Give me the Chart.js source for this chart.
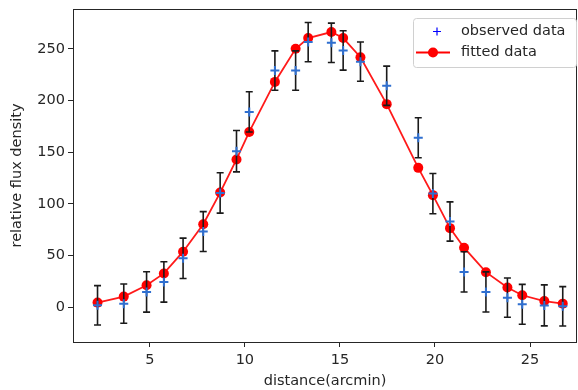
<!DOCTYPE html>
<html>
<head>
<meta charset="utf-8">
<script src="https://cdn.jsdelivr.net/npm/chart.js@4"></script>
<style>
  html, body { margin: 0; padding: 0; background: #fff; }
  #wrap { width: 578px; height: 390px; }
</style>
</head>
<body>
<div id="wrap"><canvas id="chart" width="578" height="390"></canvas></div>
<script>
// values
const distance = [2.25, 3.63, 4.83, 5.74, 6.75, 7.81, 8.7, 9.56, 10.23, 11.58, 12.67, 13.33, 14.55,
  15.17, 16.08, 17.46, 19.12, 19.89, 20.79, 21.53, 22.68, 23.81, 24.59, 25.75, 26.72];
const observed = [2, 3.6, 14.9, 24.6, 47.4, 73.3, 110.6, 151, 189, 229, 229, 256.5, 255.8,
  248.4, 237.6, 214.3, 164, 110, 83, 34.3, 14.9, 9.4, 2.9, 1.9, 1];
const fitted = [4.6, 10.4, 21.4, 32.8, 53.8, 80.4, 111, 143, 169.6, 218, 250, 260.4, 266.2,
  260.4, 241.9, 196.5, 134.9, 108.5, 76.6, 57.7, 34, 19.2, 11.7, 6.1, 3.6];
const obsError = [19, 19, 19.5, 19.5, 19.5, 19.3, 19.5, 20, 19.5, 19, 19, 19, 19,
  19, 19, 19, 19.4, 19.5, 19, 19.5, 19.4, 19, 19.3, 19.8, 19];
const xTicks = [5, 10, 15, 20, 25];
const yTicks = [0, 50, 100, 150, 200, 250];
const seriesNames = ["observed data", "fitted data"];

const FONT = "DejaVu Sans";
const FSIZE = 14.5;
const INK = "#262626";

const obsPoints = distance.map((d, i) => ({ x: d, y: observed[i] }));
const fitPoints = distance.map((d, i) => ({ x: d, y: fitted[i] }));

// black error bars, drawn right after the fitted line so crosses sit on top
const errorBars = {
  id: "errorBars",
  afterDatasetDraw(chart, args) {
    if (args.index !== 1) return;
    const { ctx, scales: { x, y } } = chart;
    ctx.save();
    ctx.strokeStyle = "#1a1a1a";
    ctx.lineWidth = 1.6;
    for (let i = 0; i < distance.length; i++) {
      const px = x.getPixelForValue(distance[i]);
      const top = y.getPixelForValue(observed[i] + obsError[i]);
      const bot = y.getPixelForValue(observed[i] - obsError[i]);
      ctx.beginPath();
      ctx.moveTo(px, top); ctx.lineTo(px, bot);
      ctx.moveTo(px - 3.5, top); ctx.lineTo(px + 3.5, top);
      ctx.moveTo(px - 3.5, bot); ctx.lineTo(px + 3.5, bot);
      ctx.stroke();
    }
    ctx.restore();
  }
};

// axes frame and the legend box in the upper right corner
const frameAndLegend = {
  id: "frameAndLegend",
  afterDraw(chart) {
    const { ctx, chartArea: a } = chart;
    ctx.save();
    ctx.strokeStyle = INK;
    ctx.lineWidth = 1;
    ctx.strokeRect(a.left + 0.5, a.top + 0.5, a.right - a.left - 1, a.bottom - a.top);

    const bx = 413, by = 18, bw = 163, bh = 49;
    ctx.fillStyle = "rgba(255,255,255,0.85)";
    ctx.strokeStyle = "#d0d0d0";
    ctx.beginPath();
    ctx.roundRect(bx + 0.5, by + 0.5, bw, bh, 3);
    ctx.fill(); ctx.stroke();

    // observed: blue plus
    ctx.strokeStyle = "#0000ff";
    ctx.lineWidth = 1.2;
    ctx.beginPath();
    ctx.moveTo(433, 31.5); ctx.lineTo(441, 31.5);
    ctx.moveTo(437, 27.5); ctx.lineTo(437, 35.5);
    ctx.stroke();
    // fitted: red line with dot
    ctx.strokeStyle = "#ff0000";
    ctx.lineWidth = 2;
    ctx.beginPath();
    ctx.moveTo(416, 52.5); ctx.lineTo(450, 52.5);
    ctx.stroke();
    ctx.fillStyle = "#ff0000";
    ctx.beginPath();
    ctx.arc(433, 52.5, 5, 0, Math.PI * 2);
    ctx.fill();

    ctx.fillStyle = INK;
    ctx.font = FSIZE + "px '" + FONT + "'";
    ctx.textBaseline = "middle";
    ctx.fillText(seriesNames[0], 461, 31.5);
    ctx.fillText(seriesNames[1], 461, 52.5);
    ctx.restore();
  }
};

new Chart(document.getElementById("chart"), {
  type: "scatter",
  plugins: [errorBars, frameAndLegend],
  data: {
    datasets: [
      {
        label: seriesNames[0],
        data: obsPoints,
        showLine: false,
        pointStyle: "cross",
        pointRadius: 4.5,
        pointBorderWidth: 2,
        borderColor: "#2f6fd0",
        backgroundColor: "#2f6fd0"
      },
      {
        label: seriesNames[1],
        data: fitPoints,
        showLine: true,
        borderColor: "#ff1a1a",
        borderWidth: 1.8,
        pointStyle: "circle",
        pointRadius: 5,
        pointBorderWidth: 0,
        pointBackgroundColor: "#ff0000",
        backgroundColor: "#ff0000"
      }
    ]
  },
  options: {
    responsive: false,
    animation: false,
    devicePixelRatio: 1,
    layout: { autoPadding: false, padding: { top: 9, right: 1, left: 0, bottom: 0 } },
    plugins: { legend: { display: false }, tooltip: { enabled: false } },
    scales: {
      x: {
        type: "linear",
        min: 0.96,
        max: 27.47,
        afterBuildTicks: (s) => { s.ticks = xTicks.map(v => ({ value: v })); },
        afterFit: (s) => { s.height = 48; s.paddingLeft = 0; s.paddingRight = 0; },
        grid: { drawOnChartArea: false, drawTicks: true, tickLength: 5, tickColor: INK },
        border: { display: false },
        ticks: { color: INK, padding: 5, font: { family: FONT, size: FSIZE } },
        title: {
          display: true,
          text: "distance(arcmin)",
          color: INK,
          padding: { top: 0, bottom: 0 },
          font: { family: FONT, size: FSIZE }
        }
      },
      y: {
        type: "linear",
        min: -33.5,
        max: 288.5,
        afterBuildTicks: (s) => { s.ticks = yTicks.map(v => ({ value: v })); },
        afterFit: (s) => { s.width = 73; s.paddingTop = 0; s.paddingBottom = 0; },
        grid: { drawOnChartArea: false, drawTicks: true, tickLength: 5, tickColor: INK },
        border: { display: false },
        ticks: { color: INK, padding: 3, font: { family: FONT, size: FSIZE } },
        title: {
          display: true,
          text: "relative flux density",
          color: INK,
          padding: { top: 9, bottom: 0 },
          font: { family: FONT, size: FSIZE }
        }
      }
    }
  }
});
</script>
</body>
</html>
